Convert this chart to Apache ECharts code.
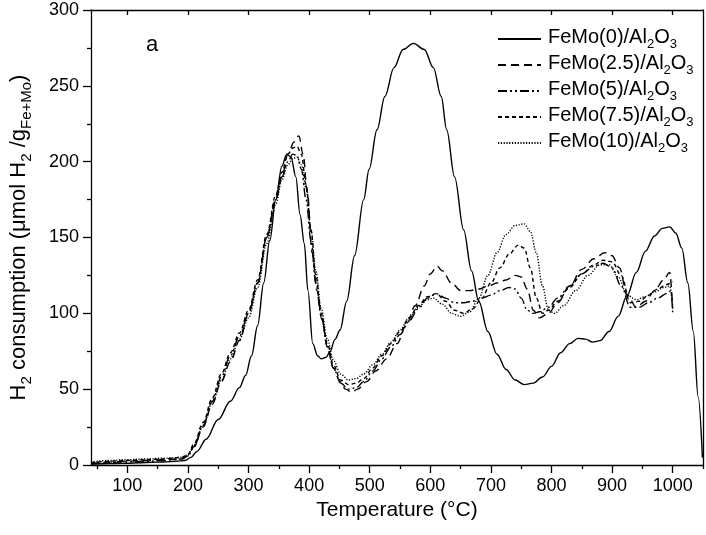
<!DOCTYPE html>
<html>
<head>
<meta charset="utf-8">
<script src="https://cdn.jsdelivr.net/npm/echarts@6/dist/echarts.min.js"></script>
<style>html,body{margin:0;padding:0;background:#fff;}#c{width:706px;height:535px;}</style>
</head>
<body>
<div id="c"></div>
<script>
// ---- data ----
const seriesNames = ['FeMo(0)/Al2O3','FeMo(2.5)/Al2O3','FeMo(5)/Al2O3','FeMo(7.5)/Al2O3','FeMo(10)/Al2O3'];
const xTicks = [100,200,300,400,500,600,700,800,900,1000];
const xMinorTicks = [50,150,250,350,450,550,650,750,850,950,1050];

const t0 = [40,60,80,100,120,140,160,180,195,205,215,230,250,270,285,295,305,315,325,335,345,355,363,370,378,385,392,398,406,414,420,428,434,443,451,462,475,490,499,512,525,540,555,572,590,605,618,627,640,655,668,680,695,710,725,740,755,770,785,800,815,830,844,856,868,880,895,910,925,940,955,970,983,995,1005,1015,1025,1034,1042,1049];
const h0 = [0.5,0.8,1,1.2,1.5,1.8,2,2.5,3,5,9,17,30,42,51,59,72,92,120,148,175,197,205,203,190,165,146,115,80,72,70,71,74.5,83,89,108,138,175,195,221,243,262,274,278,274,262,243,221,190,155,128,108,88,73,63,56,53,54,58,65,74,80,83.5,83,81,82,88,98,112,127,141,151,156,157,153,143,120,88,45,5];

const t25 = [40,70,100,130,160,190,200,210,225,240,255,270,285,300,315,330,345,355,365,375,383,390,397,405,413,421,430,440,451,460,470,480,495,510,528,545,560,575,590,600,611,620,635,650,665,680,695,710,725,740,750,760,770,780,795,810,830,850,870,888,900,912,925,940,955,970,985,995,1000];
const h25 = [1,2,2.5,3,3.5,4,6,12,25,40,55,68,82,100,120,150,175,190,205,213,217,205,180,140,115,96,78,64,55,50,48,50,55,62,70,80,92,105,118,126,131,128,120,115,115,116,118,120,122,125,124,116,102,97,100,107,118,129,136,140,138,130,112,104,108,115,122,127,103];

const t5 = [40,70,100,130,160,190,200,210,225,240,255,270,285,300,315,330,345,355,365,373,380,387,395,403,411,420,430,440,452,465,478,490,505,520,535,550,565,580,595,610,625,640,655,670,685,700,715,730,740,750,760,770,780,795,810,830,850,870,885,900,915,930,945,960,975,990,997,1000];
const h5 = [1,1.5,2,2.5,3,4,6,12,26,42,58,72,85,100,120,150,175,190,200,205,204,195,175,148,120,98,78,64,54,50,51,55,62,70,78,86,95,103,110,113,110,107,107,108,110,112,115,117,116,110,102,100,101,104,110,118,126,131,133,130,118,104,104,107,110,113,115,100];

const t75 = [40,70,100,130,160,190,200,210,225,240,255,270,285,300,315,330,345,355,365,373,380,387,395,403,411,420,430,440,452,465,478,490,505,520,535,550,565,580,595,610,625,640,655,670,685,700,715,730,745,755,765,775,785,795,810,830,850,870,885,900,915,930,945,960,975,990,1000];
const h75 = [1.5,2.5,3,3.5,4,5,7,14,28,44,60,74,87,102,122,152,178,193,205,209,210,205,185,155,125,100,80,66,56,53,54,57,64,72,80,88,97,105,111,113,108,102,100,103,110,120,130,139,145,143,130,110,100,102,108,117,126,132,135,134,125,107,108,112,116,119,121];

const t10 = [40,70,100,130,160,190,200,210,225,240,255,270,285,300,315,330,345,355,365,373,380,387,395,403,411,420,430,440,452,465,478,490,505,520,535,550,565,580,595,605,620,635,650,665,680,695,710,725,740,755,765,775,785,795,805,820,840,860,880,895,910,925,940,955,970,985,995,1000];
const h10 = [2,3,3.5,4,4.5,5,7,13,26,41,56,70,83,97,117,146,172,188,198,202,203,198,182,155,128,103,83,69,60,56,57,60,66,73,81,89,97,104,109,110,106,100,98,101,110,125,140,152,158,159,154,140,118,102,100,105,115,125,132,132,124,112,109,111,114,117,118,105];

// ---- chart ----
const FONT = 'Liberation Sans, Arial, sans-serif';
const dashes = ['solid', [8,5], [9,3,2,3,2,3], [4,3], [1.2,1.6]];
const tSets = [t0,t25,t5,t75,t10];
const hSets = [h0,h25,h5,h75,h10];

const series = seriesNames.map((n,i)=>({
  name: n, type: 'line', symbol: 'none', smooth: 0.35, smoothMonotone: 'x',
  lineStyle: {color:'#000', width: 1.4, type: dashes[i]},
  itemStyle: {color:'#000'},
  data: tSets[i].map((t,j)=>[t, hSets[i][j]])
}));

function subFmt(name){
  const base = name.replace('/Al2O3','/Al');
  return '{a|' + base + '}{s|2}{a|O}{s|3}';
}

const chart = echarts.init(document.getElementById('c'), null, {renderer:'canvas'});
chart.setOption({
  animation: false,
  backgroundColor: '#fff',
  textStyle: {fontFamily: FONT, color:'#000'},
  grid: {left: 91, right: 3, top: 10, bottom: 70},
  title: {text: 'a', left: 146, top: 34, padding: 0, textStyle: {fontFamily: FONT, fontSize: 22, fontWeight: 'normal', color:'#000'}},
  legend: {
    orient: 'vertical', left: 497, top: 27, padding: 0, itemWidth: 43, itemHeight: 14, itemGap: 2,
    data: seriesNames,
    formatter: subFmt,
    itemStyle: {opacity: 0},
    textStyle: {fontFamily: FONT, color:'#000', padding: [0,0,0,2],
      rich: {
        a: {fontFamily: FONT, fontSize: 20, color:'#000', lineHeight: 24, verticalAlign:'top'},
        s: {fontFamily: FONT, fontSize: 13, color:'#000', lineHeight: 13, verticalAlign:'bottom'}
      }}
  },
  xAxis: [
    {type:'value', position:'bottom', min:40, max:1050,
     name:'Temperature (°C)', nameLocation:'middle', nameGap: 31,
     nameTextStyle:{fontFamily:FONT, fontSize:21, color:'#000'},
     axisLine:{show:true, onZero:false, lineStyle:{color:'#000', width:1.3}},
     axisTick:{show:true, inside:false, length:8, customValues:xTicks, lineStyle:{color:'#000', width:1.3}},
     axisLabel:{show:true, customValues:xTicks, formatter: v => String(v), fontFamily:FONT, fontSize:18, color:'#000', margin:12},
     splitLine:{show:false}},
    {type:'value', position:'bottom', min:40, max:1050,
     axisLine:{show:false},
     axisTick:{show:true, inside:false, length:4, customValues:xMinorTicks, lineStyle:{color:'#000', width:1.3}},
     axisLabel:{show:false}, splitLine:{show:false}},
    {type:'value', position:'top', min:40, max:1050,
     axisLine:{show:true, onZero:false, lineStyle:{color:'#000', width:1.3}},
     axisTick:{show:true, inside:true, length:5, customValues:xTicks, lineStyle:{color:'#000', width:1.3}},
     axisLabel:{show:false}, splitLine:{show:false}}
  ],
  yAxis: [
    {type:'value', position:'left', min:0, max:300, interval:50,
     name:'{a|H}{s|2}{a| consumption (μmol H}{s|2}{a| /g}{s|Fe+Mo}{a|)}',
     nameLocation:'middle', nameGap: 57, nameRotate: 90,
     nameTextStyle:{fontFamily:FONT, color:'#000', rich:{
        a:{fontFamily:FONT, fontSize:22, color:'#000', lineHeight:26, verticalAlign:'top'},
        s:{fontFamily:FONT, fontSize:15, color:'#000', lineHeight:15, verticalAlign:'bottom'}}},
     axisLine:{show:true, onZero:false, lineStyle:{color:'#000', width:1.3}},
     axisTick:{show:true, inside:false, length:8, lineStyle:{color:'#000', width:1.3}},
     minorTick:{show:true, splitNumber:2, length:4, lineStyle:{color:'#000', width:1.3}},
     axisLabel:{fontFamily:FONT, fontSize:18, color:'#000', margin:12},
     splitLine:{show:false}, minorSplitLine:{show:false}},
    {type:'value', position:'right', min:0, max:300, interval:50,
     axisLine:{show:true, onZero:false, lineStyle:{color:'#000', width:1.3}},
     axisTick:{show:false}, axisLabel:{show:false}, splitLine:{show:false}}
  ],
  series: series
});
</script>
</body>
</html>
